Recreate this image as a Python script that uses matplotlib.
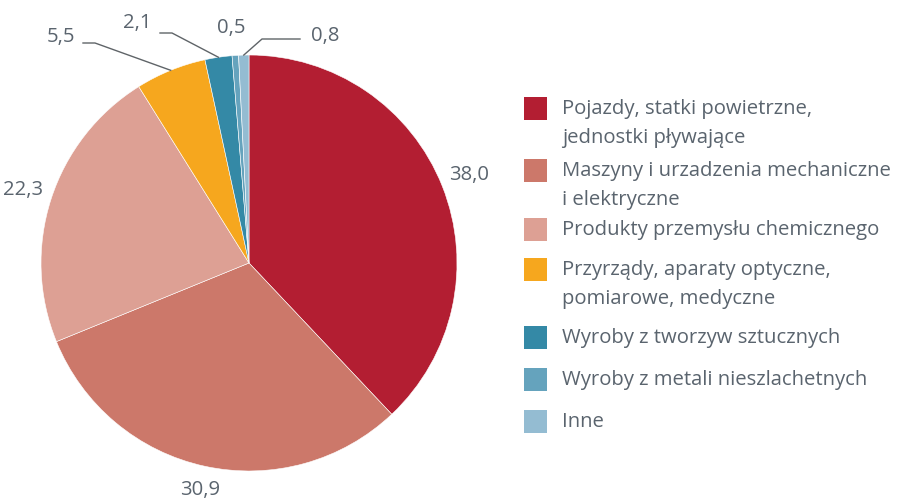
import numpy as np
import matplotlib.pyplot as plt
from matplotlib.patches import Rectangle

plt.rcParams['font.family'] = ['Open Sans', 'DejaVu Sans']

# data
categories = ["Pojazdy, statki powietrzne,\njednostki pływające",
              "Maszyny i urzadzenia mechaniczne\ni elektryczne",
              "Produkty przemysłu chemicznego",
              "Przyrządy, aparaty optyczne,\npomiarowe, medyczne",
              "Wyroby z tworzyw sztucznych",
              "Wyroby z metali nieszlachetnych",
              "Inne"]
values = [38.0, 30.9, 22.3, 5.5, 2.1, 0.5, 0.8]
labels = ["38,0", "30,9", "22,3", "5,5", "2,1", "0,5", "0,8"]
colors = ["#B31E32", "#CC786A", "#DDA094", "#F6A71E", "#3489A6", "#65A3BD", "#94BCD2"]

TXT = "#5a646e"
LINE = "#5f6468"

fig = plt.figure(figsize=(9, 5), dpi=100)
ax = fig.add_axes([0, 0, 1, 1])

cx, cy, R = 249, 237, 208
wedges, _ = ax.pie(values, colors=colors, startangle=90, counterclock=False,
                   center=(cx, cy), radius=R, frame=True,
                   wedgeprops=dict(linewidth=0.4, edgecolor='white'))
ax.set_xlim(0, 900)
ax.set_ylim(0, 500)
ax.set_aspect('equal')
ax.axis('off')

# data labels
fs = 14.6
mids = [np.deg2rad((w.theta1 + w.theta2) / 2) for w in wedges]
rf = [1.14, 1.115, 1.14]
for i in range(3):
    a = mids[i]
    ax.text(cx + rf[i] * R * np.cos(a), cy + rf[i] * R * np.sin(a), labels[i],
            ha='center', va='center', fontsize=fs, color=TXT)

# small slices with leader lines (elbow, end, text lift)
leaders = {3: ((95, 457), (83, 457), 'right', 6),
           4: ((172, 467), (160, 467), 'right', 10),
           6: ((262, 461), (300, 461), 'left', 3)}
for i, (elb, end, ha, lift) in leaders.items():
    a = mids[i]
    ex, ey = cx + R * np.cos(a), cy + R * np.sin(a)
    ax.plot([ex, elb[0], end[0]], [ey, elb[1], end[1]], color=LINE, lw=1)
    dx = -8 if ha == 'right' else 11
    ax.text(end[0] + dx, end[1] + lift, labels[i], ha=ha, va='center', fontsize=fs, color=TXT)
ax.text(231, 472, labels[5], ha='center', va='center', fontsize=fs, color=TXT)

# legend drawn by hand
row_y = [108, 170, 229, 269, 337, 379, 421]
for i, name in enumerate(categories):
    y = 500 - row_y[i]
    ax.add_patch(Rectangle((524, y - 11.5), 23, 23, color=colors[i], lw=0))
    for k, line in enumerate(name.split("\n")):
        ax.text(562, y - 1 - k * 29, line, ha='left', va='center', fontsize=fs, color=TXT)

fig.savefig("out.png", dpi=100)
